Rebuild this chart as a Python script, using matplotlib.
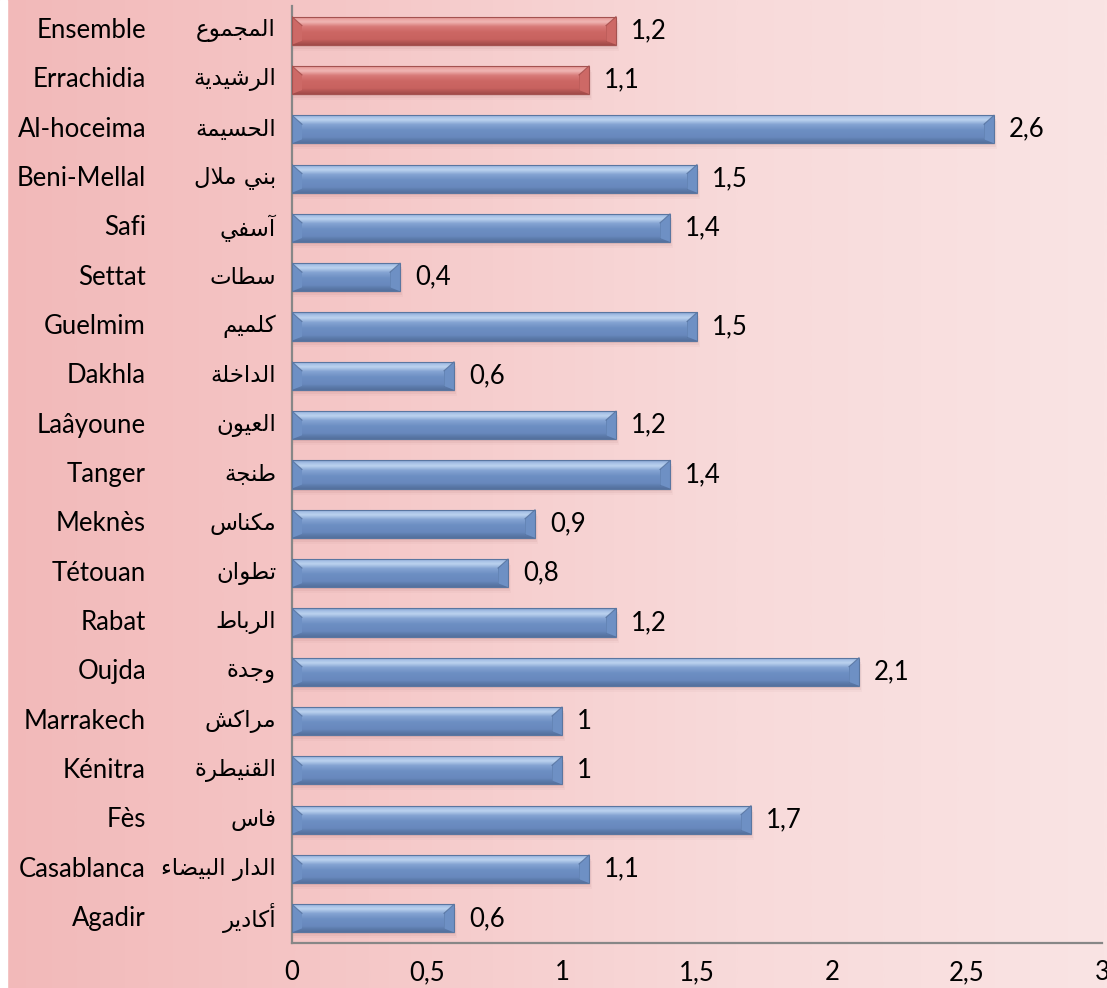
import numpy as np
import matplotlib
matplotlib.use("Agg")
import matplotlib.pyplot as plt
from matplotlib.colors import LinearSegmentedColormap
from matplotlib.patches import Polygon, Rectangle
import matplotlib.transforms as mtransforms

# ---------------- data ----------------
labels_fr = ["Ensemble", "Errachidia", "Al-hoceima", "Beni-Mellal", "Safi", "Settat",
             "Guelmim", "Dakhla", "Laâyoune", "Tanger", "Meknès", "Tétouan", "Rabat",
             "Oujda", "Marrakech", "Kénitra", "Fès", "Casablanca", "Agadir"]
labels_ar = ["المجموع", "الرشيدية", "الحسيمة", "بني ملال", "آسفي", "سطات",
             "كلميم", "الداخلة", "العيون", "طنجة", "مكناس", "تطوان", "الرباط",
             "وجدة", "مراكش", "القنيطرة", "فاس", "الدار البيضاء", "أكادير"]
values = [1.2, 1.1, 2.6, 1.5, 1.4, 0.4, 1.5, 0.6, 1.2, 1.4, 0.9, 0.8, 1.2,
          2.1, 1.0, 1.0, 1.7, 1.1, 0.6]
highlight = ["Ensemble", "Errachidia"]
xticks = [0, 0.5, 1, 1.5, 2, 2.5, 3]

# ---------------- simple Arabic shaping (presentation forms) ----------------
_dual = {'ئ': 0xFE89, 'ب': 0xFE8F, 'ت': 0xFE95, 'ث': 0xFE99, 'ج': 0xFE9D, 'ح': 0xFEA1,
         'خ': 0xFEA5, 'س': 0xFEB1, 'ش': 0xFEB5, 'ص': 0xFEB9, 'ض': 0xFEBD, 'ط': 0xFEC1,
         'ظ': 0xFEC5, 'ع': 0xFEC9, 'غ': 0xFECD, 'ف': 0xFED1, 'ق': 0xFED5, 'ك': 0xFED9,
         'ل': 0xFEDD, 'م': 0xFEE1, 'ن': 0xFEE5, 'ه': 0xFEE9, 'ي': 0xFEF1}
_right = {'آ': 0xFE81, 'أ': 0xFE83, 'ؤ': 0xFE85, 'إ': 0xFE87, 'ا': 0xFE8D, 'ة': 0xFE93,
          'د': 0xFEA9, 'ذ': 0xFEAB, 'ر': 0xFEAD, 'ز': 0xFEAF, 'و': 0xFEED, 'ى': 0xFEEF}
_lamalef = {'آ': 0xFEF5, 'أ': 0xFEF7, 'إ': 0xFEF9, 'ا': 0xFEFB}


def shape_ar(s):
    chars = list(s)
    units = []
    i = 0
    while i < len(chars):
        c = chars[i]
        if c == 'ل' and i + 1 < len(chars) and chars[i + 1] in _lamalef:
            units.append(('LA', chars[i + 1]))
            i += 2
        else:
            units.append(('C', c))
            i += 1

    def joins(u):
        return u[0] == 'LA' or u[1] in _dual or u[1] in _right

    def dual(u):
        return u[0] == 'C' and u[1] in _dual

    out = []
    for k, u in enumerate(units):
        prev_j = k > 0 and dual(units[k - 1]) and joins(u)
        next_j = dual(u) and k + 1 < len(units) and joins(units[k + 1])
        if u[0] == 'LA':
            out.append(chr(_lamalef[u[1]] + (1 if prev_j else 0)))
        elif u[1] in _dual:
            base = _dual[u[1]]
            if prev_j and next_j:
                off = 3
            elif next_j:
                off = 2
            elif prev_j:
                off = 1
            else:
                off = 0
            out.append(chr(base + off))
        elif u[1] in _right:
            out.append(chr(_right[u[1]] + (1 if prev_j else 0)))
        else:
            out.append(u[1])
    return ''.join(reversed(out))


# ---------------- figure ----------------
W, H, DPI = 1107, 988, 100
fig = plt.figure(figsize=(W / DPI, H / DPI), dpi=DPI)

bg = fig.add_axes([0, 0, 1, 1], zorder=0)
bg_cmap = LinearSegmentedColormap.from_list(
    "bg", ["#f2b9b9", "#f5c8c8", "#f8dada", "#fae4e4"])
bg.imshow(np.linspace(0, 1, 512)[None, :], aspect="auto", cmap=bg_cmap,
          extent=[0, 1, 0, 1])
bg.add_patch(Rectangle((0, 0), 7 / W, 1, color="white", transform=bg.transAxes))
bg.set_axis_off()

ax = fig.add_axes([292 / W, 1 - 943 / H, 810 / W, 937 / H], zorder=1)
ax.patch.set_alpha(0)

n = len(values)
ypos = np.arange(n)
bh = 0.57

blue_cmap = LinearSegmentedColormap.from_list(
    "blue", [(0.0, "#7f9dcb"), (0.1, "#a6c0e6"), (0.2, "#bcd3ef"),
             (0.36, "#84a3d2"), (0.55, "#6d8fc3"), (0.8, "#6888bd"),
             (0.88, "#5d7cad"), (1.0, "#54709c")])
red_cmap = LinearSegmentedColormap.from_list(
    "red", [(0.0, "#d98583"), (0.1, "#eaa3a1"), (0.2, "#f0b6b4"),
            (0.36, "#d87a78"), (0.55, "#cc6764"), (0.8, "#c8625f"),
            (0.88, "#b65755"), (1.0, "#a04a48")])

bars = ax.barh(ypos, values, height=bh, color="none", edgecolor="none", zorder=3)
grad = np.linspace(0, 1, 256)[:, None]
px_x = 810 / 3.0
px_y = 937 / n
for lab, v, y, bar in zip(labels_fr, values, ypos, bars):
    hl = lab in highlight
    cmap = red_cmap if hl else blue_cmap
    top = y - bh / 2
    bot = y + bh / 2
    for k, a in enumerate([0.10, 0.07, 0.04]):
        ax.add_patch(Rectangle((0, top + (2 + 2 * k) / px_y), v + (1 + k) / px_x, bh,
                               color="#8a5050", alpha=a, lw=0, zorder=2))
    im = ax.imshow(grad, aspect="auto", cmap=cmap, extent=[0, v, bot, top],
                   zorder=3, interpolation="bilinear")
    im.set_clip_path(bar)
    d = 10 / px_x
    dv = 9 / px_y
    flat = "#6e90c4" if not hl else "#cd6966"
    line = "#4f6b96" if not hl else "#9b4543"
    ax.add_patch(Polygon([(v - d, top + dv), (v, top), (v, bot), (v - d, bot - 4 / px_y)],
                         closed=True, color=flat, lw=0, zorder=4))
    ax.plot([v - d, v], [top + dv, top], color=line, lw=0.8, alpha=0.7, zorder=4)
    ax.plot([v - d, v - d], [top + dv, bot - 4 / px_y], color=line, lw=0.6,
            alpha=0.35, zorder=4)
    ax.add_patch(Polygon([(0, top), (d, top + dv), (d, bot - 4 / px_y), (0, bot)],
                         closed=True, color=flat, lw=0, zorder=4))
    ax.plot([0, d], [top, top + dv], color=line, lw=0.8, alpha=0.7, zorder=4)
    ax.add_patch(Rectangle((0, top), v, bh, fill=False,
                           ec="#5a76a0" if not hl else "#a45250", lw=0.8, zorder=5))
    txt = ("%g" % v).replace(".", ",")
    ax.text(v + 15 / px_x, y, txt, ha="left", va="center", fontsize=18.5,
            family="Lato", color="black", zorder=6)

ax.set_xlim(0, 3)
ax.set_ylim(n - 0.5, -0.5)
ax.set_xticks(xticks)
ax.set_xticklabels([("%g" % t).replace(".", ",") for t in xticks],
                   fontsize=18.5, family="Lato")
ax.tick_params(axis="x", length=0, pad=12.5)
ax.set_yticks([])
for s in ["top", "right"]:
    ax.spines[s].set_visible(False)
for s in ["left", "bottom"]:
    ax.spines[s].set_color("#878787")
    ax.spines[s].set_linewidth(1.6)

trans = mtransforms.blended_transform_factory(fig.transFigure, ax.transData)
for fr, ar, y in zip(labels_fr, labels_ar, ypos):
    ax.text(146 / W, y, fr, transform=trans, ha="right", va="center",
            fontsize=18.5, family="Lato", color="black", clip_on=False)
    ax.text(276 / W, y, shape_ar(ar), transform=trans, ha="right", va="center",
            fontsize=16.5, family="DejaVu Sans", color="black", clip_on=False)

fig.savefig("out.png", dpi=DPI)
